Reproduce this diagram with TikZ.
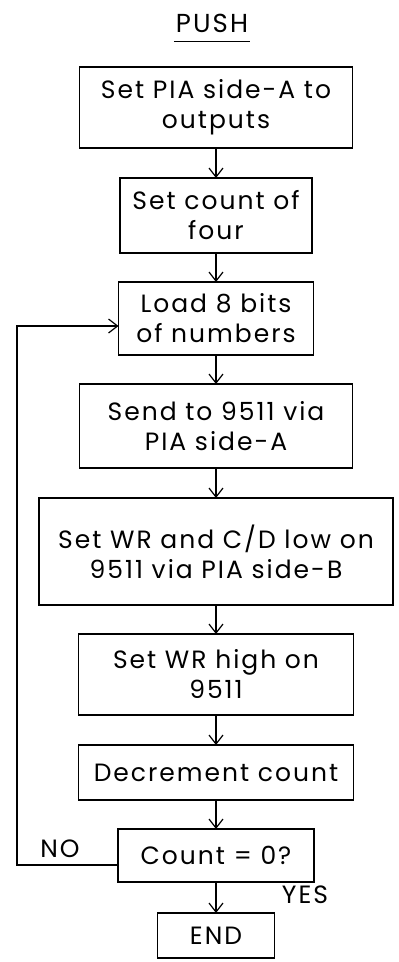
\documentclass[tikz,border=0pt]{standalone}
\usepackage{fontspec}
\setmainfont{Poppins}[LetterSpace=8]
\usetikzlibrary{positioning, arrows.meta}

\begin{document}
\begin{tikzpicture}[
                block/.style={draw=black, line width=1.2pt, rectangle, inner sep=3pt, outer sep=0pt, align=center, font=\fontsize{25}{30}\selectfont},
                flow/.style={line width=1.2pt, -{Straight Barb[length=9pt, width=14pt]}},
                lbl/.style={font=\fontsize{25}{29}\selectfont}
            ]

            \useasboundingbox (0pt,0pt) rectangle (399pt,-962pt);

            % Titel
            \node[lbl, font=\fontsize{26}{30}\selectfont, inner xsep=2pt, inner ysep=0pt, text depth=0pt] (title) at (212pt,-23pt) {PUSH};
            \draw[line width=1.2pt] ([yshift=-9pt]title.south west) -- ([yshift=-9pt]title.south east);

            % Knoten
            \node[block, minimum width=273pt, minimum height=81pt] (B1) at (216pt,-107.5pt) {Set PIA side-A to\\outputs};
            \node[block, below=30pt of B1, minimum width=192pt, minimum height=75pt] (B2) {Set count of\\four};
            \node[block, below=29pt of B2, minimum width=195pt, minimum height=73pt] (B3) {Load 8 bits\\of numbers};
            \node[block, below=29pt of B3, minimum width=273pt, minimum height=84pt] (B4) {Send to 9511 via\\PIA side-A};
            \node[block, below=30pt of B4, minimum width=354pt, minimum height=107pt] (B5) {Set WR and C/D low on\\9511 via PIA side-B};
            \node[block, below=29pt of B5, minimum width=275pt, minimum height=81pt] (B6) {Set WR high on\\9511};
            \node[block, below=30pt of B6, minimum width=275pt, minimum height=55pt] (B7) {Decrement count};
            \node[block, below=29pt of B7, minimum width=196pt, minimum height=53pt] (B8) {Count = 0?};
            \node[block, below=31pt of B8, minimum width=117pt, minimum height=45pt] (B9) {END};
            \coordinate (loop) at (17pt,-600pt);

            % Kanten zwischen Knoten
            \draw[flow] (B1.south) -- (B2.north);
            \draw[flow] (B2.south) -- (B3.north);
            \draw[flow] (B3.south) -- (B4.north);
            \draw[flow] (B4.south) -- (B5.north);
            \draw[flow] (B5.south) -- (B6.north);
            \draw[flow] (B6.south) -- (B7.north);
            \draw[flow] (B7.south) -- (B8.north);
            \draw[flow] (B8.south) -- (B9.north);
            \draw[flow] ([yshift=-9.5pt]B8.west) -| (loop) |- ([yshift=-7.5pt]B3.west);

            % Beschriftungen
            \node[lbl] (no) at ([xshift=-58pt, yshift=7pt]B8.west) {NO};
            \node[lbl] (yes) at ([xshift=-9pt, yshift=-13pt]B8.south east) {YES};

        \end{tikzpicture}
\end{document}
